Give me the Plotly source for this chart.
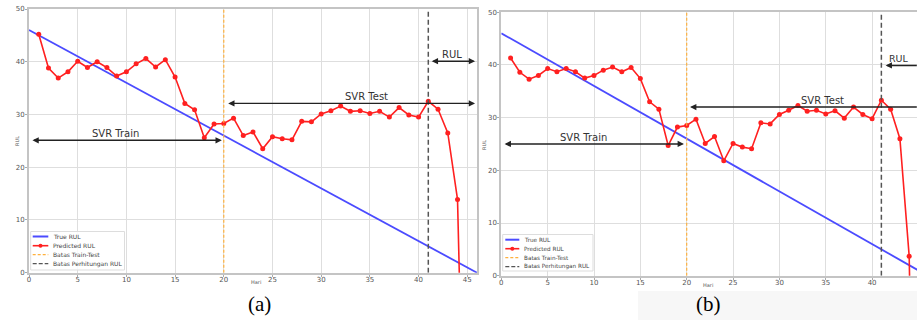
import plotly.graph_objects as go

# ---------------- data ----------------
days = list(range(1, 46))
true_x = [0, 46]
true_y = [46, 0]

pred_a = [45.2, 38.8, 36.9, 38.1, 40.1, 38.9, 40.0, 38.9, 37.3, 38.1,
          39.6, 40.6, 39.0, 40.4, 37.1, 32.1, 30.9, 25.6, 28.2, 28.3,
          29.3, 26.0, 26.7, 23.5, 25.8, 25.4, 25.2, 28.7, 28.6, 30.1,
          30.7, 31.6, 30.6, 30.7, 30.2, 30.6, 29.5, 31.3, 29.9, 29.5,
          32.5, 31.0, 26.5, 13.9, -63.0]

pred_b = [41.3, 38.6, 37.3, 38.0, 39.3, 38.7, 39.3, 38.7, 37.5, 38.0,
          39.0, 39.6, 38.7, 39.5, 37.4, 33.0, 31.6, 24.7, 28.2, 28.5,
          29.7, 25.1, 26.4, 21.8, 25.1, 24.4, 24.1, 29.0, 28.8, 30.6,
          31.4, 32.3, 31.2, 31.4, 30.7, 31.3, 29.9, 32.0, 30.6, 29.8,
          33.3, 31.6, 26.0, 3.7, -90.0]

split_day = 20
rul_day = 41
xticks = [0, 5, 10, 15, 20, 25, 30, 35, 40, 45]
yticks = [0, 10, 20, 30, 40, 50]
legend_names = ["True RUL", "Predicted RUL", "Batas Train-Test", "Batas Perhitungan RUL"]

W, H = 917, 320

BLUE = "#4b4bff"
RED = "#ff2020"
ORANGE = "#ffb13d"
DARK = "#555555"
TXT = "#333333"

fig = go.Figure()


def add_panel(xa, ya, pred):
    fig.add_trace(go.Scatter(x=true_x, y=true_y, mode="lines", name=legend_names[0],
                             line=dict(color=BLUE, width=1.8), xaxis=xa, yaxis=ya,
                             showlegend=False))
    fig.add_trace(go.Scatter(x=days, y=pred, mode="lines+markers", name=legend_names[1],
                             line=dict(color=RED, width=1.6), marker=dict(color=RED, size=5),
                             xaxis=xa, yaxis=ya, showlegend=False))
    fig.add_trace(go.Scatter(x=[split_day, split_day], y=[0, 50], mode="lines",
                             name=legend_names[2],
                             line=dict(color=ORANGE, width=1.2, dash="3px,2px"),
                             xaxis=xa, yaxis=ya, showlegend=False))
    fig.add_trace(go.Scatter(x=[rul_day, rul_day], y=[0, 50], mode="lines",
                             name=legend_names[3],
                             line=dict(color=DARK, width=1.5, dash="5px,3px"),
                             xaxis=xa, yaxis=ya, showlegend=False))


add_panel("x", "y", pred_a)
add_panel("x2", "y2", pred_b)

axis_common = dict(showgrid=True, gridcolor="#dedede", gridwidth=1, zeroline=False,
                   showline=True, linecolor="#c4c4c4", linewidth=2,
                   ticks="outside", ticklen=2, tickcolor="#aaaaaa", automargin=False,
                   tickfont=dict(family="DejaVu Sans", size=7, color="#555555"))

# panel (a) geometry (pixels)
a_left, a_right, a_top, a_bottom = 29, 477, 9, 272.7
# panel (b) geometry
b_left, b_top, b_bottom = 501.3, 12.2, 275.7
b_pxunit = 9.27
b_xmax = (W - b_left) / b_pxunit

fig.update_layout(
    width=W, height=H,
    margin=dict(l=0, r=0, t=0, b=0, autoexpand=False),
    paper_bgcolor="white", plot_bgcolor="white",
    showlegend=False,
    xaxis=dict(domain=[a_left / W, a_right / W], range=[0, 46], tickvals=xticks,
               anchor="y", mirror=True, ticklabelstandoff=-3, **axis_common),
    yaxis=dict(domain=[1 - a_bottom / H, 1 - a_top / H], range=[0, 50], tickvals=yticks,
               anchor="x", mirror=True, ticklabelstandoff=-1, **axis_common),
    xaxis2=dict(domain=[b_left / W, 1.0], range=[0, b_xmax], tickvals=xticks,
                anchor="y2", mirror=True, ticklabelstandoff=-3, **axis_common),
    yaxis2=dict(domain=[1 - b_bottom / H, 1 - b_top / H], range=[0, 50], tickvals=yticks,
                anchor="x2", mirror=False, ticklabelstandoff=-1, **axis_common),
)

ann = []
shapes = []


def arrow(xr, yr, x0, x1, y, side):
    ann.append(dict(x=x1, y=y, ax=x0, ay=y, xref=xr, yref=yr, axref=xr, ayref=yr,
                    text="", showarrow=True, arrowside=side, arrowhead=2,
                    startarrowhead=2, arrowsize=0.9, startarrowsize=0.9,
                    arrowwidth=1.4, arrowcolor="#222222"))


def label(xr, yr, x, y, t, size=10):
    ann.append(dict(x=x, y=y, xref=xr, yref=yr, text=t, showarrow=False,
                    font=dict(family="DejaVu Sans", size=size, color=TXT)))


# panel (a)
arrow("x", "y", 0.2, 19.8, 25.1, "end+start")
arrow("x", "y", 20.3, 45.8, 32.1, "end+start")
arrow("x", "y", 41.2, 45.8, 40.1, "end+start")
label("x", "y", 8.85, 26.4, "SVR Train")
label("x", "y", 34.7, 33.4, "SVR Test")
label("x", "y", 43.4, 41.4, "RUL")

# panel (b)
arrow("x2", "y2", 0.2, 19.7, 25.0, "end+start")
arrow("x2", "y2", 20.2, b_xmax - 0.02, 32.0, "start")
arrow("x2", "y2", 41.3, b_xmax - 0.02, 39.9, "start")
label("x2", "y2", 8.85, 26.3, "SVR Train")
label("x2", "y2", 34.6, 33.3, "SVR Test")
label("x2", "y2", 42.9, 41.2, "RUL", size=9.5)

# axis titles (tiny)
for xp, yp, t, rot in [(249, 287, "Hari", 0), (715, 290, "Hari", 0),
                       (12, 141, "RUL", -90), (484, 145, "RUL", -90)]:
    ann.append(dict(x=xp / W, y=1 - yp / H, xref="paper", yref="paper", text=t,
                    showarrow=False, textangle=rot,
                    font=dict(family="DejaVu Sans", size=5, color="#555")))

# background patch behind caption (b)
shapes.append(dict(type="rect", xref="paper", yref="paper", x0=638 / W, x1=1, y0=0,
                   y1=1 - 291 / H, fillcolor="#f7f7f7", line=dict(width=0), layer="below"))

# panel captions
for xp, t in [(259, "(a)"), (708, "(b)")]:
    ann.append(dict(x=xp / W, y=1 - 304 / H, xref="paper", yref="paper", text=t,
                    showarrow=False, xanchor="center", yanchor="middle",
                    font=dict(family="Liberation Serif", size=21, color="black")))


# hand-drawn compact legends (matplotlib style)
def legend_box(x0, y0, x1, y1, rows, sx0, sx1, tx, fsize):
    shapes.append(dict(type="rect", xref="paper", yref="paper",
                       x0=x0 / W, x1=x1 / W, y0=1 - y1 / H, y1=1 - y0 / H,
                       fillcolor="rgba(255,255,255,0.85)",
                       line=dict(color="#dddddd", width=1), layer="above"))
    styles = [dict(color=BLUE, width=2, dash="solid"),
              dict(color=RED, width=1.6, dash="solid"),
              dict(color=ORANGE, width=1.2, dash="3px,2px"),
              dict(color=DARK, width=1.3, dash="4px,2px")]
    for ry, st, name in zip(rows, styles, legend_names):
        shapes.append(dict(type="line", xref="paper", yref="paper",
                           x0=sx0 / W, x1=sx1 / W, y0=1 - ry / H, y1=1 - ry / H,
                           line=st, layer="above"))
        ann.append(dict(x=tx / W, y=1 - ry / H, xref="paper", yref="paper", text=name,
                        showarrow=False, xanchor="left", yanchor="middle",
                        font=dict(family="DejaVu Sans", size=fsize, color="#444")))
    cx = (sx0 + sx1) / 2
    shapes.append(dict(type="circle", xref="paper", yref="paper",
                       x0=(cx - 2) / W, x1=(cx + 2) / W,
                       y0=1 - (rows[1] + 2) / H, y1=1 - (rows[1] - 2) / H,
                       fillcolor=RED, line=dict(color=RED, width=0), layer="above"))


legend_box(30.7, 231.5, 124.5, 270, [236.5, 245.7, 254.7, 263.7], 32.7, 48.3, 50.5, 6)
legend_box(502.7, 234.5, 593, 271, [239.7, 248.7, 257.7, 266.7], 505.3, 519.3, 522, 5.7)

fig.update_layout(annotations=ann, shapes=shapes)

fig.write_html("out.html", config={"displayModeBar": False},
               post_script="document.body.style.margin='0px';document.body.style.padding='0px';")
